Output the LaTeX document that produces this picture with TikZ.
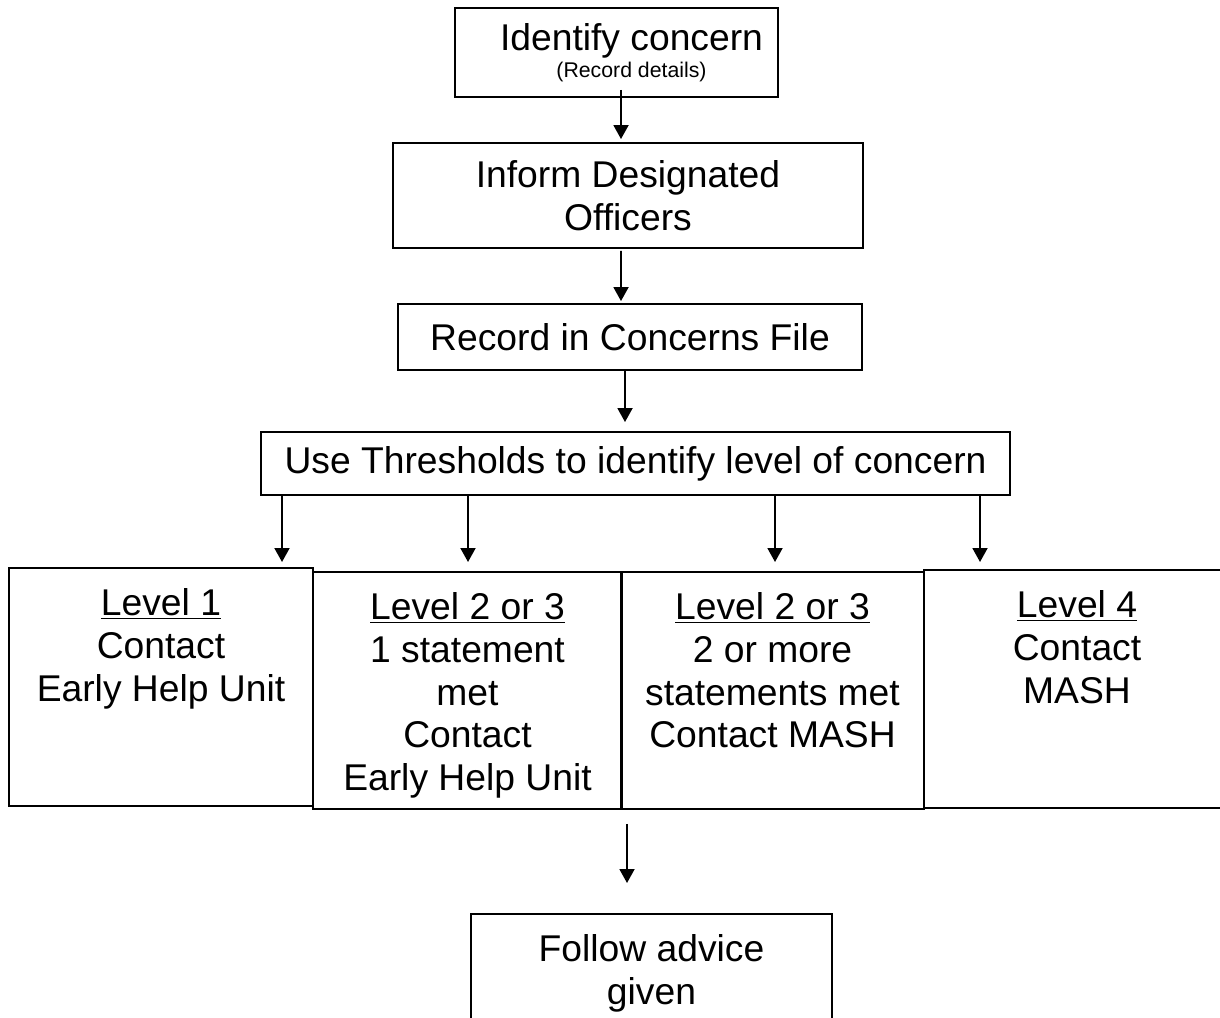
\documentclass[tikz,border=0pt]{standalone}
\usepackage{fontspec}
\setmainfont{Liberation Sans}
\usetikzlibrary{arrows.meta}
\tikzset{
  box/.style={draw, line width=1.1pt, align=center, inner sep=0pt,
    font=\fontsize{21.2pt}{24.2pt}\selectfont},
  arr/.style={->, line width=1.1pt},
}
% text set from the top of a box of given height and width
\newcommand{\topbox}[3]{\parbox[t][#1][t]{#2}{\centering\vspace{0.42cm}#3}}
\begin{document}
\begin{tikzpicture}[>={Triangle[width=3mm,length=2.8mm]}]
		\useasboundingbox (0,0) rectangle (24.4,20.34);
		\node[box, minimum width=6.46cm, minimum height=1.78cm] (concern) at (12.33,19.29)
			{\hspace*{0.6cm}Identify concern\\[-0.3cm]\hspace*{0.6cm}{\fontsize{12.1pt}{14pt}\selectfont (Record details)}};
		\node[box, minimum width=9.4cm, minimum height=2.1cm] (inform) at (12.56,16.43)
			{Inform Designated\\Officers};
		\node[box, minimum width=9.28cm, minimum height=1.32cm] (record) at (12.6,13.6)
			{Record in Concerns File};
		\node[box, minimum width=14.98cm, minimum height=1.26cm] (thresh) at (12.71,11.07)
			{Use Thresholds to identify level of concern};
		\node[box, anchor=north] (lvone) at (3.22,9.00)
			{\topbox{4.76cm}{6.08cm}{\underline{Level 1}\\Contact\\Early Help Unit}};
		\node[box, anchor=north] (lvtwo) at (9.35,8.92)
			{\topbox{4.74cm}{6.18cm}{\underline{Level 2 or 3}\\1 statement\\met\\Contact\\Early Help Unit}};
		\node[box, anchor=north] (lvthree) at (15.45,8.92)
			{\topbox{4.74cm}{6.06cm}{\underline{Level 2 or 3}\\2 or more\\statements met\\Contact MASH}};
		\node[box, anchor=north] (lvfour) at (21.54,8.96)
			{\topbox{4.76cm}{6.12cm}{\underline{Level 4}\\Contact\\MASH}};
		\node[box, anchor=north] (advice) at (13.03,2.08)
			{\topbox{3cm}{7.22cm}{Follow advice\\given}};
		\draw[arr] ([xshift=0.09cm,yshift=0.16cm]concern.south) -- ([xshift=-0.14cm,yshift=0.06cm]inform.north);
		\draw[arr] ([xshift=-0.14cm,yshift=-0.04cm]inform.south) -- ([xshift=-0.18cm,yshift=0.04cm]record.north);
		\draw[arr] ([xshift=-0.1cm]record.south) -- ([xshift=-0.21cm,yshift=0.18cm]thresh.north);
		\foreach \x/\n/\s in {5.64/lvone/0.10, 9.36/lvtwo/0.18, 15.5/lvthree/0.18, 19.6/lvfour/0.14}
			\draw[arr] (thresh.south -| \x,0) -- ([yshift=\s cm]\n.north -| \x,0);
		\draw[arr] ([yshift=-0.28cm]lvthree.south -| 12.54,0) -- ([yshift=0.6cm]advice.north -| 12.54,0);
\end{tikzpicture}
\end{document}
